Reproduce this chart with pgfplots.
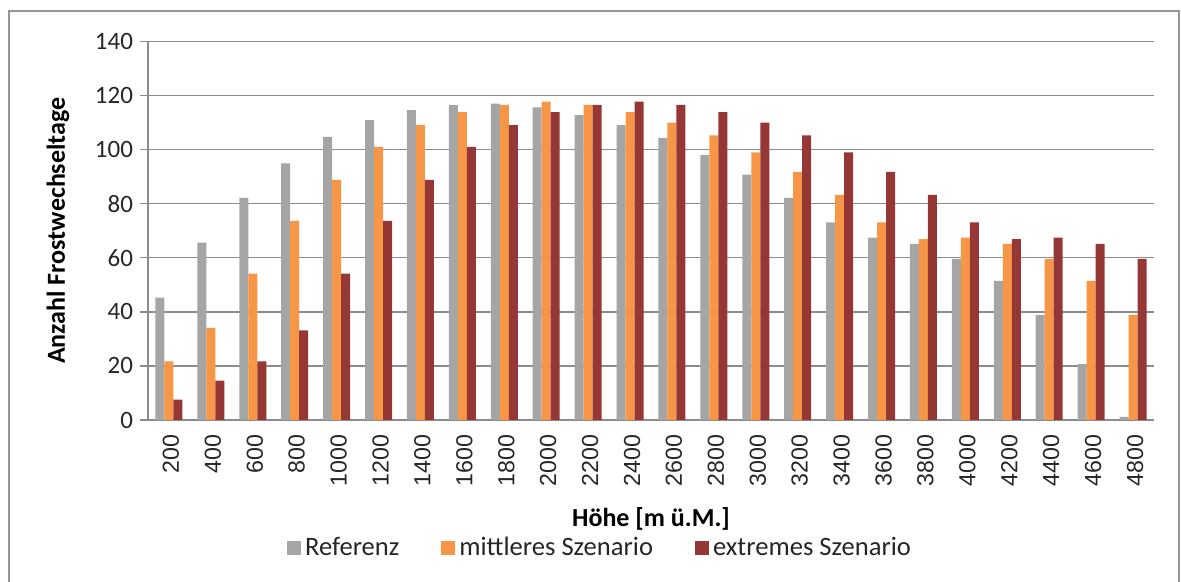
\documentclass[border=0pt]{standalone}
\usepackage{fontspec}
\setmainfont{Carlito}
\newfontfamily\arialfont{Liberation Sans}
\usepackage{pgfplots}
\usepackage{pgfplotstable}
\pgfplotsset{compat=1.18}

\definecolor{refgray}{RGB}{165,165,165}
\definecolor{midorange}{RGB}{247,150,70}
\definecolor{extred}{RGB}{149,55,53}
\definecolor{gridgray}{RGB}{140,140,140}
\definecolor{framegray}{RGB}{150,150,150}

% Hoehe index: 0 = 200 m ... 23 = 4800 m
\pgfplotstableread{
idx ref   mit   ext
0   45.2  21.7  7.5
1   65.6  34.1  14.6
2   82.1  54.1  21.7
3   94.9  73.6  33.1
4   104.7 88.8  54.1
5   110.9 101.0 73.6
6   114.6 109.0 88.8
7   116.4 113.8 101.0
8   117.0 116.5 109.0
9   115.6 117.7 113.8
10  112.7 116.5 116.5
11  109.0 113.8 117.7
12  104.3 109.9 116.5
13  98.0  105.2 113.8
14  90.7  98.9  109.9
15  82.1  91.7  105.2
16  73.1  83.2  98.9
17  67.4  73.1  91.7
18  65.1  66.9  83.2
19  59.6  67.4  73.1
20  51.4  65.1  66.9
21  38.9  59.6  67.4
22  20.7  51.4  65.1
23  1.2   38.9  59.6
}\frost

\pgfplotsset{
  sq/.style={legend image code/.code={\fill[##1] (0pt,-3.5pt) rectangle (7pt,3.5pt);}},
}

\begin{document}
\begin{tikzpicture}[x=1pt,y=1pt]
\useasboundingbox (-74,-81) rectangle (516.5,210);
\draw[framegray, line width=1pt] (-69.5,-100) rectangle (515.5,204.5);
\begin{axis}[
  at={(0,0)}, anchor=south west,
  scale only axis, width=503pt, height=189.35pt,
  xmin=-0.5, xmax=23.5, ymin=0, ymax=140,
  ybar=0pt, bar width=4.5pt,
  axis x line*=bottom, axis y line*=left,
  axis line style={gridgray, line width=0.75pt},
  every tick/.style={gridgray, line width=0.75pt},
  tick align=outside,
  ymajorgrids, grid style={gridgray, line width=0.75pt},
  ytick={0,20,...,140}, ytick pos=left,
  major tick length=4pt,
  xtick={0,...,23},
  xticklabels={200,400,600,800,1000,1200,1400,1600,1800,2000,2200,2400,2600,2800,3000,3200,3400,3600,3800,4000,4200,4400,4600,4800},
  x tick style={draw=none},
  extra x ticks={-0.5,0.5,...,23.5},
  extra x tick labels={},
  extra x tick style={major tick length=4.5pt, tick style={gridgray, line width=0.75pt}},
  xticklabel style={rotate=90, anchor=east, yshift=-1pt, font=\arialfont\fontsize{11.6}{13}\selectfont, text=black!85},
  yticklabel style={font=\fontsize{12.5}{14}\selectfont, text=black!85},
  /pgf/number format/assume math mode=true,
  ylabel={Anzahl Frostwechseltage},
  xlabel={Höhe [m ü.M.]},
  every axis y label/.style={at={(axis description cs:0,0.5)}, xshift=-45pt, rotate=90, anchor=center, font=\bfseries\fontsize{13}{15}\selectfont},
  every axis x label/.style={at={(axis description cs:0.5,0)}, yshift=-49.5pt, anchor=center, font=\bfseries\fontsize{13}{15}\selectfont},
  legend columns=3,
  legend style={at={(axis description cs:0.4503,0)}, yshift=-64pt, anchor=center, draw=none, fill=none,
    font=\fontsize{13.3}{15}\selectfont, text=black!85,
    /tikz/every even column/.append style={column sep=19pt}},
]
\addplot[draw=none, fill=refgray, sq] table[x=idx, y=ref] {\frost};
\addplot[draw=none, fill=midorange, sq] table[x=idx, y=mit] {\frost};
\addplot[draw=none, fill=extred, sq] table[x=idx, y=ext] {\frost};
\legend{Referenz, mittleres Szenario, extremes Szenario}
\end{axis}
\end{tikzpicture}
\end{document}
